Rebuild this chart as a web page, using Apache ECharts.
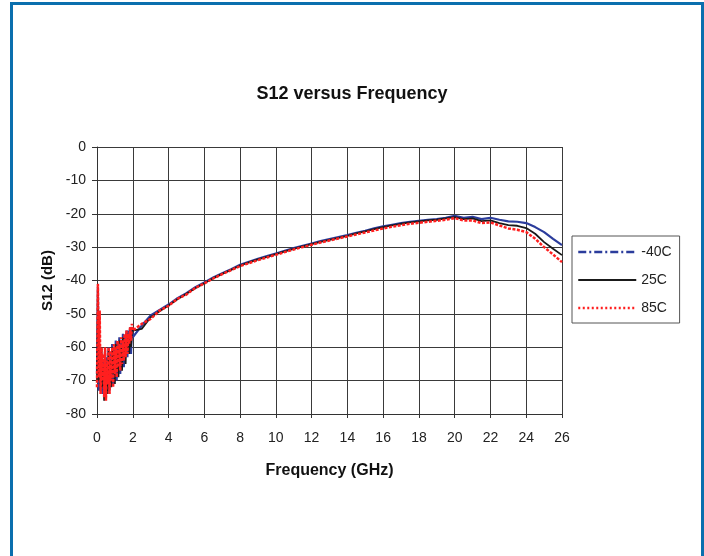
<!DOCTYPE html>
<html>
<head>
<meta charset="utf-8">
<script src="https://cdn.jsdelivr.net/npm/echarts@6/dist/echarts.min.js"></script>
<style>
html,body{margin:0;padding:0;background:#fff;}
#c{width:704px;height:556px;}
</style>
</head>
<body>
<div id="c"></div>
<script>
const seriesNames = ['-40C', '25C', '85C'];
const xTicks = [0,2,4,6,8,10,12,14,16,18,20,22,24,26];
const yTicks = [0,-10,-20,-30,-40,-50,-60,-70,-80];

const freq = [0,0.05,0.1,0.15,0.2,0.25,0.3,0.35,0.4,0.45,0.5,0.55,0.6,0.65,0.7,0.75,0.8,0.85,0.9,0.95,1,1.05,1.1,1.15,1.2,1.25,1.3,1.35,1.4,1.45,1.5,1.55,1.6,1.65,1.7,1.75,1.8,1.85,1.9,1.95,2,
  2.5,3,3.5,4,4.5,5,5.5,6,6.5,7,7.5,8,8.5,9,9.5,10,10.5,11,11.5,12,12.5,13,13.5,14,14.5,15,15.5,16,16.5,17,17.5,18,18.5,19,19.5,20,
  20.5,21,21.5,22,22.5,23,23.5,24,24.5,25,25.5,26];

const s12Minus40 = [-68,-42,-73,-60,-71,-62,-74,-64,-72,-61,-75,-63,-70,-60,-73,-62,-69,-59,-71,-60,-67,-58,-70,-59,-66,-57,-68,-58,-64,-56,-66,-57,-62,-55,-63,-55,-60,-54,-62,-54,-57,
  -53.5,-50.5,-48.8,-47.2,-45.3,-43.8,-42,-40.6,-39.1,-37.8,-36.6,-35.3,-34.4,-33.5,-32.7,-31.9,-31.1,-30.3,-29.6,-28.9,-28.2,-27.6,-27,-26.4,-25.7,-25.1,-24.4,-23.8,-23.3,-22.8,-22.4,-22.1,-21.8,-21.6,-21.2,-20.6,
  -21.2,-20.9,-21.6,-21.2,-21.8,-22.3,-22.4,-22.8,-24,-25.5,-27.5,-29.4];

const s12At25 = [-70,-43,-70,-62,-73,-60,-72,-66,-76,-62,-72,-65,-74,-61,-70,-64,-72,-60,-68,-62,-71,-59,-67,-61,-69,-58,-65,-60,-67,-57,-63,-58,-65,-56,-61,-57,-62,-55,-60,-56,-55,
  -54.5,-51,-49.2,-47.5,-45.6,-44,-42.3,-40.8,-39.3,-38,-36.8,-35.5,-34.6,-33.7,-32.9,-32.1,-31.3,-30.5,-29.8,-29.1,-28.4,-27.8,-27.2,-26.6,-25.9,-25.3,-24.6,-24,-23.5,-23,-22.6,-22.3,-22,-21.8,-21.4,-21,
  -21.6,-21.4,-22.2,-22,-22.8,-23.4,-23.6,-24.3,-26,-28.5,-30.5,-32.4];

const s12At85 = [-72,-41,-69,-49,-74,-60,-70,-62,-75,-60,-76,-64,-71,-60,-74,-61,-70,-60,-72,-59,-68,-60,-69,-58,-66,-59,-67,-57,-65,-58,-64,-56,-63,-55,-62,-56,-59,-54,-58,-53,-55,
  -53,-51.5,-49,-47.6,-45.5,-44.2,-42.2,-40.9,-39.4,-38.1,-36.9,-35.7,-34.8,-33.9,-33.1,-32.3,-31.5,-30.7,-30,-29.3,-28.6,-28,-27.4,-26.8,-26.2,-25.6,-25,-24.4,-23.9,-23.4,-23,-22.7,-22.4,-22.1,-21.8,-21.3,
  -22,-22,-22.8,-22.6,-23.5,-24.4,-24.8,-25.5,-27.5,-30,-32.2,-34.5];

const chart = echarts.init(document.getElementById('c'), null, {renderer: 'canvas'});
const pairs = arr => freq.map((f, i) => [f, arr[i]]);
const font = 'Arial, "Liberation Sans", sans-serif';

chart.setOption({
  backgroundColor: '#fff',
  animation: false,
  title: {
    text: 'S12 versus Frequency',
    left: 'center',
    top: 80,
    textStyle: {fontFamily: font, fontSize: 18, fontWeight: 'bold', color: '#111'}
  },
  grid: {left: 97, top: 147, right: 142, bottom: 142, containLabel: false},
  legend: {
    orient: 'vertical',
    left: 572,
    top: 236,
    padding: [9, 8, 8, 5],
    itemWidth: 58,
    itemHeight: 14,
    itemGap: 14,
    borderColor: '#555',
    borderWidth: 1,
    backgroundColor: '#fff',
    itemStyle: {color: 'rgba(0,0,0,0)', borderWidth: 0, opacity: 0},
    textStyle: {fontFamily: font, fontSize: 14, color: '#222'},
    data: [
      {name: seriesNames[0], lineStyle: {type: [8, 3, 2, 3], width: 2.5}},
      {name: seriesNames[1], lineStyle: {type: 'solid', width: 2}},
      {name: seriesNames[2], lineStyle: {type: [2, 2.5], width: 2.5}}
    ]
  },
  xAxis: {
    type: 'value',
    min: xTicks[0],
    max: xTicks[xTicks.length - 1],
    interval: 2,
    name: 'Frequency (GHz)',
    nameLocation: 'middle',
    nameGap: 49,
    nameTextStyle: {fontFamily: font, fontSize: 16, fontWeight: 'bold', color: '#111'},
    axisLine: {onZero: false, lineStyle: {color: '#333', width: 1}},
    axisTick: {show: true, length: 4, lineStyle: {color: '#333'}},
    axisLabel: {fontFamily: font, fontSize: 14, color: '#222', margin: 17},
    splitLine: {show: true, lineStyle: {color: '#3a3a3a', width: 1}}
  },
  yAxis: {
    type: 'value',
    min: yTicks[yTicks.length - 1],
    max: yTicks[0],
    interval: 10,
    name: 'S12 (dB)',
    nameLocation: 'middle',
    nameGap: 41,
    nameTextStyle: {fontFamily: font, fontSize: 15, fontWeight: 'bold', color: '#111'},
    axisLine: {show: true, lineStyle: {color: '#333', width: 1}},
    axisTick: {show: true, length: 5, lineStyle: {color: '#333'}},
    axisLabel: {fontFamily: font, fontSize: 14, color: '#222', margin: 11},
    splitLine: {show: true, lineStyle: {color: '#3a3a3a', width: 1}}
  },
  graphic: [{
    type: 'polyline',
    shape: {points: [[11.5, 556], [11.5, 3.5], [702.5, 3.5], [702.5, 556]]},
    style: {stroke: '#0a6fae', lineWidth: 3, fill: null},
    silent: true
  }],
  series: [
    {
      name: seriesNames[0], type: 'line', data: pairs(s12Minus40), symbol: 'none',
      lineStyle: {color: '#2b3c9c', width: 2.2, type: 'solid'},
      itemStyle: {color: '#2b3c9c'}
    },
    {
      name: seriesNames[1], type: 'line', data: pairs(s12At25), symbol: 'none',
      lineStyle: {color: '#1a1a1a', width: 1.8, type: 'solid'},
      itemStyle: {color: '#1a1a1a'}
    },
    {
      name: seriesNames[2], type: 'line', data: pairs(s12At85), symbol: 'none',
      lineStyle: {color: '#ff1f1f', width: 2.5, type: [3, 1.5]},
      itemStyle: {color: '#ff1f1f'}
    }
  ]
});
</script>
</body>
</html>
